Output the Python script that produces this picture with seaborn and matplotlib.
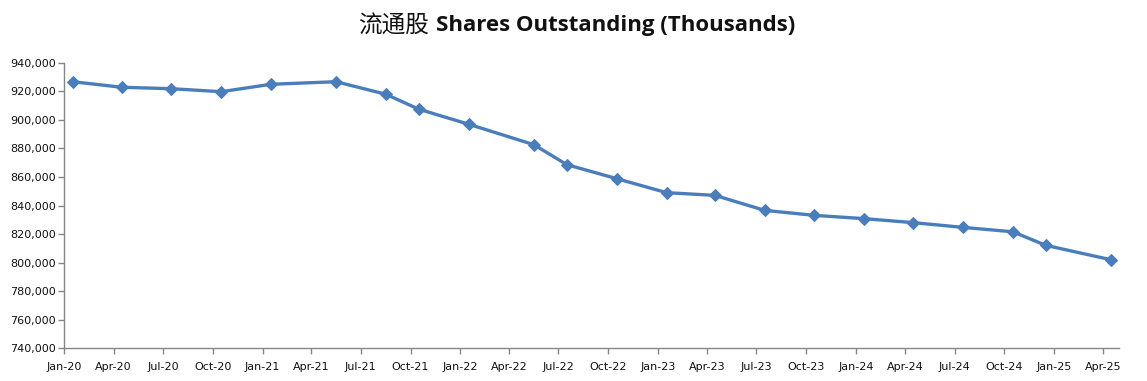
import numpy as np
import pandas as pd
import matplotlib
matplotlib.use("Agg")
import matplotlib.pyplot as plt
import matplotlib.dates as mdates
from matplotlib.ticker import FuncFormatter, MultipleLocator
import seaborn as sns

# ---- data ----
months = ["2020-01", "2020-04", "2020-07", "2020-10", "2021-01", "2021-05",
          "2021-08", "2021-10", "2022-01", "2022-05", "2022-07", "2022-10",
          "2023-01", "2023-04", "2023-07", "2023-10", "2024-01", "2024-04",
          "2024-07", "2024-10", "2024-12", "2025-04"]
shares = [926700, 922800, 921800, 919700, 924900, 926700,
          917900, 907400, 896900, 882600, 868600, 858800,
          849000, 847100, 836600, 833100, 830800, 828000,
          824700, 821600, 812100, 802000]
tick_months = pd.date_range("2020-01-01", "2025-04-01", freq="QS")
title_cn = "流通股"
title_en = "Shares Outstanding (Thousands)"

# ---- build frame (points sit in the middle of their month slot, Excel date-axis style) ----
start = pd.to_datetime(months)
end = start + pd.offsets.MonthBegin(1)
df = pd.DataFrame({"date": start + (end - start) / 2, "shares": shares})

sns.set_style("white")
plt.rcParams["font.family"] = ["DejaVu Sans", "Noto Sans CJK SC"]

fig = plt.figure(figsize=(11.47, 3.81), dpi=100)
ax = fig.add_axes([0.0561, 0.0858, 0.9197, 0.7496])

sns.lineplot(data=df, x="date", y="shares", ax=ax, color="#4A7EBB",
             linewidth=2.4, marker="D", markersize=6.5,
             markeredgecolor="#4A7EBB", markerfacecolor="#4A7EBB")

ax.set_xlim(pd.Timestamp("2020-01-01"), pd.Timestamp("2025-05-01"))
ax.set_ylim(740000, 940000)
ax.yaxis.set_major_locator(MultipleLocator(20000))
ax.yaxis.set_major_formatter(FuncFormatter(lambda v, p: f"{int(v):,}"))
ax.set_xticks(tick_months)
ax.xaxis.set_major_formatter(mdates.DateFormatter("%b-%y"))

ax.set_xlabel("")
ax.set_ylabel("")
for s in ["top", "right"]:
    ax.spines[s].set_visible(False)
for s in ["left", "bottom"]:
    ax.spines[s].set_color("#868686")
    ax.spines[s].set_linewidth(1.0)
ax.tick_params(axis="both", which="major", direction="out", length=4,
               width=1.0, color="#868686", labelsize=8, labelcolor="#111111",
               left=True, bottom=True)
ax.tick_params(axis="x", pad=6)
ax.tick_params(axis="y", pad=2)
ax.grid(False)

fig.text(429 / 1147, 1 - 26 / 381, title_cn, ha="right", va="center",
         fontsize=17, family=["Noto Sans CJK SC"], color="#111111")
fig.text(436 / 1147, 1 - 26 / 381, title_en, ha="left", va="center",
         fontsize=16, fontweight="bold", family=["Open Sans", "DejaVu Sans"],
         color="#111111")

fig.savefig("out.png", dpi=100)
